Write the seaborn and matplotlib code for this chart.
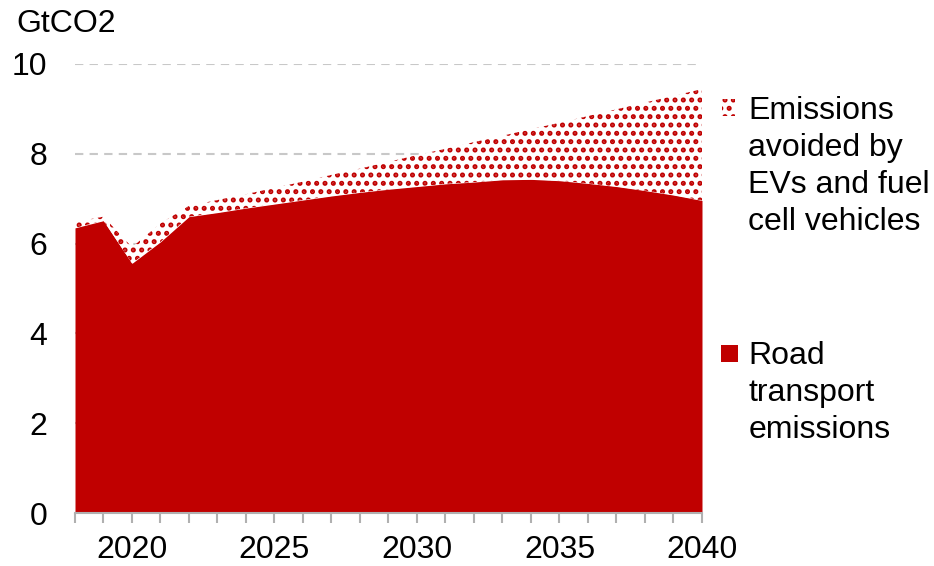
import matplotlib
matplotlib.use("Agg")
import matplotlib.pyplot as plt
from matplotlib.patches import Rectangle
import seaborn as sns

# values (GtCO2)
years = list(range(2018, 2041))
road_emissions = [6.35, 6.51, 5.56, 6.04, 6.60, 6.69, 6.79, 6.88, 6.97, 7.06, 7.14, 7.21,
                  7.27, 7.33, 7.37, 7.42, 7.43, 7.40, 7.34, 7.27, 7.18, 7.08, 6.96]
avoided_emissions = [0.13, 0.09, 0.36, 0.41, 0.24, 0.28, 0.31, 0.36, 0.41, 0.47, 0.53, 0.61,
                     0.70, 0.78, 0.89, 0.98, 1.12, 1.29, 1.50, 1.72, 1.96, 2.21, 2.48]
tick_labels = ["2020", "2025", "2030", "2035", "2040"]

RED = "#C00000"
GRID = "#C8C8C8"
AXIS_GREY = "#B0B0B0"
FS = 23

sns.set_theme(style="white")
plt.rcParams["font.family"] = ["Liberation Sans", "DejaVu Sans"]
plt.rcParams["text.color"] = "black"
plt.rcParams["xtick.color"] = "black"
plt.rcParams["ytick.color"] = "black"
plt.rcParams["hatch.linewidth"] = 2.4

fig = plt.figure(figsize=(9.34, 5.66), dpi=100)
ax = fig.add_axes([0.0803, 0.0936, 0.6713, 0.7934])

ax.stackplot(years, road_emissions, avoided_emissions,
             colors=[RED, "white"], linewidth=0)
# second layer gets the dotted look
polys = ax.collections
polys[1].set_hatch("..")
polys[1].set_edgecolor(RED)
polys[1].set_linewidth(0)

ax.set_xlim(years[0], years[-1])
ax.set_ylim(0, 10)
ax.set_yticks([0, 2, 4, 6, 8, 10])
ax.yaxis.grid(True, color=GRID, linestyle=(0, (4, 3)), linewidth=1.5)
ax.set_axisbelow(True)

ax.set_xticks(years)
ax.set_xticklabels([str(y) if str(y) in tick_labels else "" for y in years])
ax.tick_params(axis="x", length=7, width=1.5, color=AXIS_GREY, labelcolor="black",
               labelsize=FS, pad=9, direction="out", bottom=True)
ax.tick_params(axis="y", length=0, labelsize=FS, labelcolor="black", pad=20)

sns.despine(ax=ax, left=True)
ax.spines["bottom"].set_color(AXIS_GREY)
ax.spines["bottom"].set_linewidth(1.5)

fig.text(0.017, 0.958, "GtCO2", fontsize=FS, ha="left", va="center")

# legend on the right
fig.patches.append(Rectangle((0.773, 0.795), 0.014, 0.030, transform=fig.transFigure,
                             facecolor="white", edgecolor=RED, hatch="..", linewidth=0))
fig.text(0.801, 0.830,
         "Emissions\navoided by\nEVs and fuel\ncell vehicles",
         fontsize=FS, ha="left", va="top", linespacing=1.3)
fig.patches.append(Rectangle((0.772, 0.361), 0.018, 0.030, transform=fig.transFigure,
                             facecolor=RED, edgecolor="none"))
fig.text(0.801, 0.397, "Road\ntransport\nemissions",
         fontsize=FS, ha="left", va="top", linespacing=1.3)

fig.savefig("out.png", dpi=100)
